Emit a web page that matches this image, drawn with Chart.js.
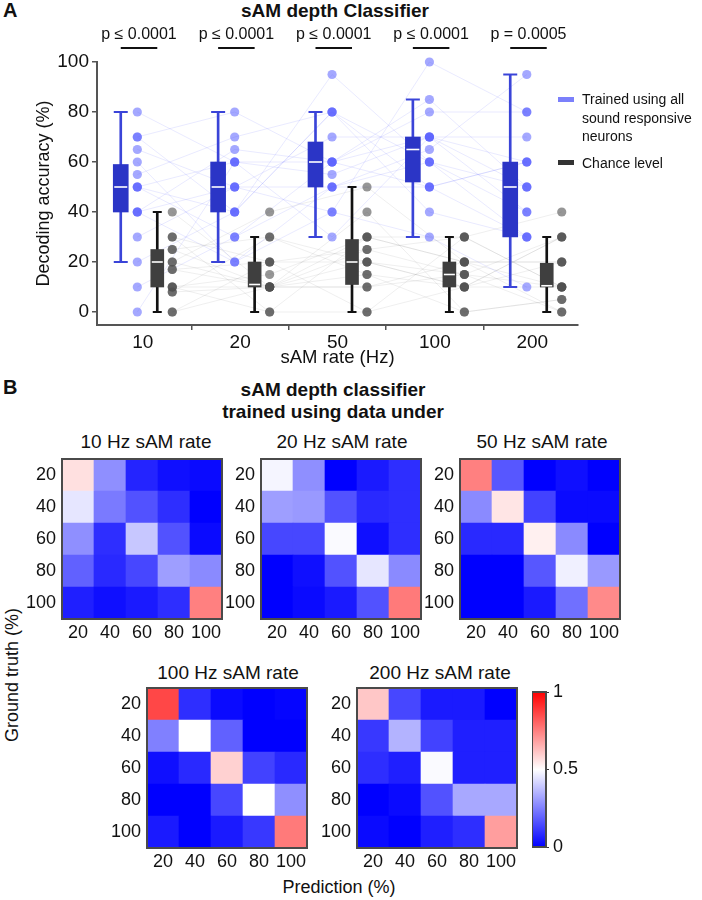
<!DOCTYPE html>
<html>
<head>
<meta charset="utf-8">
<script src="https://cdn.jsdelivr.net/npm/chart.js@4.4.0/dist/chart.umd.min.js"></script>
<style>
body { margin: 0; background: #fff; font-family: "Liberation Sans", Arial, Helvetica, sans-serif; color: #111; }
#fig { position: relative; width: 702px; height: 900px; overflow: hidden; }
#fig canvas { position: absolute; }
.t { position: absolute; white-space: nowrap; line-height: 20px; font-size: 19px; }
.c { transform: translateX(-50%); }
.b { font-weight: bold; font-size: 19px; }
.sw { position: absolute; width: 16px; height: 5px; }
</style>
</head>
<body>
<div id="fig">
  <div class="t b" style="left:3px;top:0;font-size:20px;">A</div>
  <div class="t b c" style="left:335px;top:1px;">sAM depth Classifier</div>
  <canvas id="panelA" width="702" height="372" style="left:0;top:0"></canvas>

  <div class="sw" style="left:558px;top:97px;background:#7b80fb"></div>
  <div class="t" style="left:582px;top:90px;font-size:14px;line-height:18.5px">Trained using all<br>sound responsive<br>neurons</div>
  <div class="sw" style="left:558px;top:160px;background:#333"></div>
  <div class="t" style="left:582px;top:154px;font-size:14px;line-height:18.5px">Chance level</div>

  <div class="t b" style="left:3px;top:377px;font-size:20px;">B</div>
  <div class="t b c" style="left:333px;top:379px;line-height:22px;text-align:center">sAM depth classifier<br>trained using data under</div>

  <div class="t c" style="left:146px;top:432px">10 Hz sAM rate</div>
  <div class="t c" style="left:342px;top:432px">20 Hz sAM rate</div>
  <div class="t c" style="left:542px;top:432px">50 Hz sAM rate</div>
  <div class="t c" style="left:228px;top:663px">100 Hz sAM rate</div>
  <div class="t c" style="left:440px;top:663px">200 Hz sAM rate</div>

  <canvas id="h10" width="202" height="190" style="left:22px;top:457px"></canvas>
  <canvas id="h20" width="202" height="190" style="left:221px;top:457px"></canvas>
  <canvas id="h50" width="202" height="190" style="left:420px;top:457px"></canvas>
  <canvas id="h100" width="202" height="190" style="left:107px;top:686px"></canvas>
  <canvas id="h200" width="202" height="190" style="left:317px;top:686px"></canvas>
  <canvas id="cbar" width="60" height="179" style="left:532px;top:680px"></canvas>

  <div class="t" style="left:12px;top:675px;font-size:18px;transform:translate(-50%,-50%) rotate(-90deg)">Ground truth (%)</div>
  <div class="t c" style="left:339px;top:877px;font-size:18px">Prediction (%)</div>
</div>

<script>
const rates = ['10', '20', '50', '100', '200'];
const yTicks = [0, 20, 40, 60, 80, 100];
const pLabels = ['p ≤ 0.0001', 'p ≤ 0.0001', 'p ≤ 0.0001', 'p ≤ 0.0001', 'p = 0.0005'];

// box summaries
const trainedLow = [20, 20, 30, 30, 10];
const trainedQ1 = [40, 40, 50, 52, 30];
const trainedMed = [50, 50, 60, 65, 50];
const trainedQ3 = [59, 60, 68, 70, 60];
const trainedHigh = [80, 80, 80, 85, 95];
const chanceLow = [0, 0, 0, 0, 0];
const chanceQ1 = [10, 10, 11, 10, 10];
const chanceMed = [20, 11, 20, 15, 10.5];
const chanceQ3 = [25, 20, 29, 20, 19.5];
const chanceHigh = [40, 30, 50, 30, 30];

// per session accuracy, one array per sAM rate (same session order)
const trained10 = [80, 70, 70, 65, 60, 55, 50, 50, 50, 40, 40, 40, 30, 20, 10, 0];
const trained20 = [60, 80, 40, 50, 20, 70, 30, 60, 40, 50, 65, 20, 50, 40, 30, 60];
const trained50 = [55, 60, 95, 40, 50, 80, 60, 30, 80, 50, 60, 40, 70, 80, 50, 60];
const trained100 = [70, 50, 60, 100, 65, 40, 85, 70, 50, 60, 80, 30, 70, 60, 50, 70];
const trained200 = [40, 60, 50, 80, 95, 30, 50, 60, 30, 40, 80, 10, 50, 30, 60, 70];
const chance10 = [40, 30, 30, 25, 20, 20, 17, 17, 10, 10, 8, 8, 0, 0, 25, 10];
const chance20 = [10, 20, 0, 30, 10, 40, 10, 20, 15, 0, 10, 30, 20, 10, 10, 10];
const chance50 = [20, 0, 30, 15, 25, 50, 10, 20, 30, 0, 40, 20, 25, 10, 15, 30];
const chance100 = [15, 10, 20, 0, 30, 20, 15, 10, 20, 30, 0, 10, 15, 20, 10, 30];
const chance200 = [30, 10, 20, 5, 40, 0, 10, 30, 20, 10, 5, 20, 0, 10, 30, 10];

// confusion matrices, rows = ground truth 20..100, cols = prediction 20..100
const depthLabels = ['20', '40', '60', '80', '100'];
const conf10 = [
  [0.56, 0.28, 0.07, 0.03, 0.02],
  [0.45, 0.24, 0.16, 0.09, 0.00],
  [0.28, 0.09, 0.39, 0.16, 0.02],
  [0.19, 0.08, 0.14, 0.31, 0.27],
  [0.06, 0.03, 0.05, 0.09, 0.75]
];
const conf20 = [
  [0.48, 0.28, 0.00, 0.05, 0.09],
  [0.31, 0.30, 0.16, 0.08, 0.09],
  [0.14, 0.14, 0.49, 0.03, 0.09],
  [0.00, 0.03, 0.16, 0.45, 0.27],
  [0.00, 0.02, 0.05, 0.16, 0.76]
];
const conf50 = [
  [0.75, 0.17, 0.00, 0.03, 0.00],
  [0.27, 0.55, 0.13, 0.02, 0.02],
  [0.08, 0.08, 0.53, 0.27, 0.00],
  [0.00, 0.00, 0.17, 0.47, 0.30],
  [0.00, 0.00, 0.05, 0.22, 0.73]
];
const conf100 = [
  [0.86, 0.09, 0.02, 0.00, 0.01],
  [0.25, 0.50, 0.19, 0.00, 0.00],
  [0.03, 0.08, 0.59, 0.13, 0.08],
  [0.00, 0.00, 0.14, 0.50, 0.28],
  [0.05, 0.00, 0.05, 0.11, 0.76]
];
const conf200 = [
  [0.61, 0.14, 0.05, 0.05, 0.00],
  [0.11, 0.35, 0.13, 0.06, 0.06],
  [0.09, 0.06, 0.49, 0.06, 0.06],
  [0.00, 0.02, 0.16, 0.33, 0.33],
  [0.02, 0.00, 0.06, 0.09, 0.69]
];
const cbTicks = [0, 0.5, 1];

const FONT = '"Liberation Sans", Arial, Helvetica, sans-serif';
Chart.defaults.font.family = FONT;
Chart.defaults.color = '#111';
Chart.defaults.animation = false;

// horizontal offsets of each element inside a rate group
const T_BOX = -0.226, T_DOT = -0.056, C_BOX = 0.149, C_DOT = 0.303;

const trainedPts = [trained10, trained20, trained50, trained100, trained200];
const chancePts = [chance10, chance20, chance50, chance100, chance200];

function boxSets(low, q1, med, q3, high, off, fill, whisk, w, capR, order) {
  const xs = rates.map((r, i) => i + 1 + off);
  return [
    { type: 'bar', data: xs.map((x, i) => ({ x: x, y: [low[i], high[i]] })), backgroundColor: whisk,
      barThickness: 2, grouped: false, order: order + 2, clip: false },
    { type: 'bar', data: xs.map((x, i) => ({ x: x, y: [q1[i], q3[i]] })), backgroundColor: fill,
      barThickness: w, grouped: false, order: order + 1, clip: false },
    { type: 'scatter', data: xs.flatMap((x, i) => [{ x: x, y: low[i] }, { x: x, y: high[i] }]),
      pointStyle: 'line', pointRadius: capR, borderColor: whisk, borderWidth: 2, order: order, clip: false },
    { type: 'scatter', data: xs.map((x, i) => ({ x: x, y: med[i] })),
      pointStyle: 'line', pointRadius: w / 2 - 1, borderColor: '#ffffff', borderWidth: 1.6, order: order, clip: false }
  ];
}

const lineSets = [];
for (let s = 0; s < trained10.length; s++) {
  lineSets.push({ type: 'line', data: trainedPts.map((v, i) => ({ x: i + 1 + T_DOT, y: v[s] })),
    borderColor: 'rgba(110,115,255,0.15)', borderWidth: 1, pointRadius: 0, order: 20, clip: false });
  lineSets.push({ type: 'line', data: chancePts.map((v, i) => ({ x: i + 1 + C_DOT, y: v[s] })),
    borderColor: 'rgba(120,120,120,0.12)', borderWidth: 1, pointRadius: 0, order: 20, clip: false });
}

const dotSets = [
  { type: 'scatter', data: trainedPts.flatMap((v, i) => v.map(y => ({ x: i + 1 + T_DOT, y: y }))),
    backgroundColor: 'rgba(90,97,255,0.55)', borderWidth: 0, pointRadius: 4.6, order: 1, clip: false },
  { type: 'scatter', data: chancePts.flatMap((v, i) => v.map(y => ({ x: i + 1 + C_DOT, y: y }))),
    backgroundColor: 'rgba(80,80,80,0.6)', borderWidth: 0, pointRadius: 4.6, order: 1, clip: false }
];

const pvalPlugin = {
  id: 'pvals',
  afterDatasetsDraw(chart) {
    const { ctx, chartArea, scales } = chart;
    ctx.save();
    ctx.font = '16px ' + FONT;
    ctx.fillStyle = '#111';
    ctx.strokeStyle = '#111';
    ctx.lineWidth = 2;
    ctx.textAlign = 'center';
    ctx.textBaseline = 'middle';
    pLabels.forEach((t, i) => {
      const x0 = scales.x.getPixelForValue(i + 1 + T_BOX);
      const x1 = scales.x.getPixelForValue(i + 1 + C_BOX);
      ctx.beginPath();
      ctx.moveTo(x0, chartArea.top - 14);
      ctx.lineTo(x1, chartArea.top - 14);
      ctx.stroke();
      ctx.fillText(t, (x0 + x1) / 2, chartArea.top - 27);
    });
    ctx.restore();
  }
};

const axisGrid = { display: true, drawOnChartArea: false, drawTicks: true, tickLength: 5, color: '#555', lineWidth: 1.5 };

new Chart(document.getElementById('panelA'), {
  type: 'bar',
  data: {
    datasets: [].concat(
      lineSets,
      boxSets(trainedLow, trainedQ1, trainedMed, trainedQ3, trainedHigh, T_BOX, '#2b35c6', '#3a44d8', 15, 7, 3),
      boxSets(chanceLow, chanceQ1, chanceMed, chanceQ3, chanceHigh, C_BOX, '#3f3f3f', '#111111', 13, 4.5, 3),
      dotSets
    )
  },
  options: {
    responsive: false,
    layout: { padding: { top: 62, right: 124, left: 0, bottom: 0 } },
    plugins: { legend: { display: false }, tooltip: { enabled: false } },
    scales: {
      x: {
        type: 'linear', min: 0.53, max: 5.47, offset: false,
        grid: axisGrid, border: { color: '#555', width: 2 },
        ticks: { font: { size: 19 }, padding: 1, callback: (v, i) => rates[i] },
        afterBuildTicks: s => { s.ticks = rates.map((r, i) => ({ value: i + 1 })); },
        afterFit: s => { s.height = 47; },
        title: { display: true, text: 'sAM rate (Hz)', font: { size: 18.5 }, padding: { top: 0, bottom: 3 } }
      },
      y: {
        type: 'linear', min: -5.2, max: 100,
        grid: axisGrid, border: { color: '#555', width: 2 },
        ticks: { font: { size: 19 }, padding: 3 },
        afterBuildTicks: s => { s.ticks = yTicks.map(v => ({ value: v })); },
        afterFit: s => { s.width = 97; },
        title: { display: true, text: 'Decoding accuracy (%)', font: { size: 18 }, padding: { top: 33, bottom: 0 } }
      }
    }
  },
  plugins: [pvalPlugin]
});

// blue - white - red colour map
function bwr(v) {
  if (v < 0.5) {
    const k = Math.round(255 * v / 0.5);
    return 'rgb(' + k + ',' + k + ',255)';
  }
  const k = Math.round(255 * (1 - (v - 0.5) / 0.5));
  return 'rgb(255,' + k + ',' + k + ')';
}

const framePlugin = {
  id: 'frame',
  afterDraw(chart) {
    const { ctx, chartArea: a } = chart;
    ctx.save();
    ctx.strokeStyle = '#4a4a4a';
    ctx.lineWidth = 2;
    ctx.strokeRect(a.left, a.top, a.right - a.left, a.bottom - a.top);
    ctx.restore();
  }
};

function heatmap(id, matrix) {
  const rows = matrix.map((row, r) => ({
    label: depthLabels[r],
    data: row.map(() => 1),
    backgroundColor: row.map(bwr),
    borderWidth: 0,
    barPercentage: 1,
    categoryPercentage: 1
  })).reverse();
  new Chart(document.getElementById(id), {
    type: 'bar',
    data: { labels: depthLabels, datasets: rows },
    options: {
      responsive: false,
      layout: { padding: { top: 2, right: 2, left: 0, bottom: 0 } },
      plugins: { legend: { display: false }, tooltip: { enabled: false } },
      scales: {
        x: {
          stacked: true, grid: { display: false, drawTicks: false }, border: { display: false },
          ticks: { font: { size: 18 }, padding: 3, autoSkip: false, maxRotation: 0 },
          afterFit: s => { s.height = 28; s.paddingLeft = 0; s.paddingRight = 0; }
        },
        y: {
          stacked: true, min: 0, max: 5, grid: { display: false, drawTicks: false }, border: { display: false },
          ticks: { font: { size: 18 }, padding: 6, callback: v => depthLabels[4 - Math.floor(v)] },
          afterBuildTicks: s => { s.ticks = depthLabels.map((d, i) => ({ value: i + 0.5 })); },
          afterFit: s => { s.width = 40; s.paddingTop = 0; s.paddingBottom = 0; }
        }
      }
    },
    plugins: [framePlugin]
  });
}

heatmap('h10', conf10);
heatmap('h20', conf20);
heatmap('h50', conf50);
heatmap('h100', conf100);
heatmap('h200', conf200);

new Chart(document.getElementById('cbar'), {
  type: 'bar',
  data: {
    labels: [''],
    datasets: [{
      data: [1],
      barPercentage: 1,
      categoryPercentage: 1,
      borderWidth: 0,
      backgroundColor: ctx => {
        const c = ctx.chart;
        if (!c.chartArea) return '#ffffff';
        const y = c.scales.y;
        const g = c.ctx.createLinearGradient(0, y.getPixelForValue(0), 0, y.getPixelForValue(1));
        g.addColorStop(0, bwr(0));
        g.addColorStop(0.5, bwr(0.5));
        g.addColorStop(1, bwr(1));
        return g;
      }
    }]
  },
  options: {
    responsive: false,
    layout: { padding: { top: 12, bottom: 12, left: 0, right: 0 } },
    plugins: { legend: { display: false }, tooltip: { enabled: false } },
    scales: {
      x: { display: false },
      y: {
        position: 'right', min: 0, max: 1,
        grid: { display: true, drawOnChartArea: false, drawTicks: true, tickLength: 3, color: '#333' },
        border: { display: false },
        ticks: { font: { size: 18 }, padding: 4, callback: v => String(v) },
        afterBuildTicks: s => { s.ticks = cbTicks.map(v => ({ value: v })); },
        afterFit: s => { s.width = 46; s.paddingTop = 0; s.paddingBottom = 0; }
      }
    }
  },
  plugins: [framePlugin]
});
</script>
</body>
</html>
